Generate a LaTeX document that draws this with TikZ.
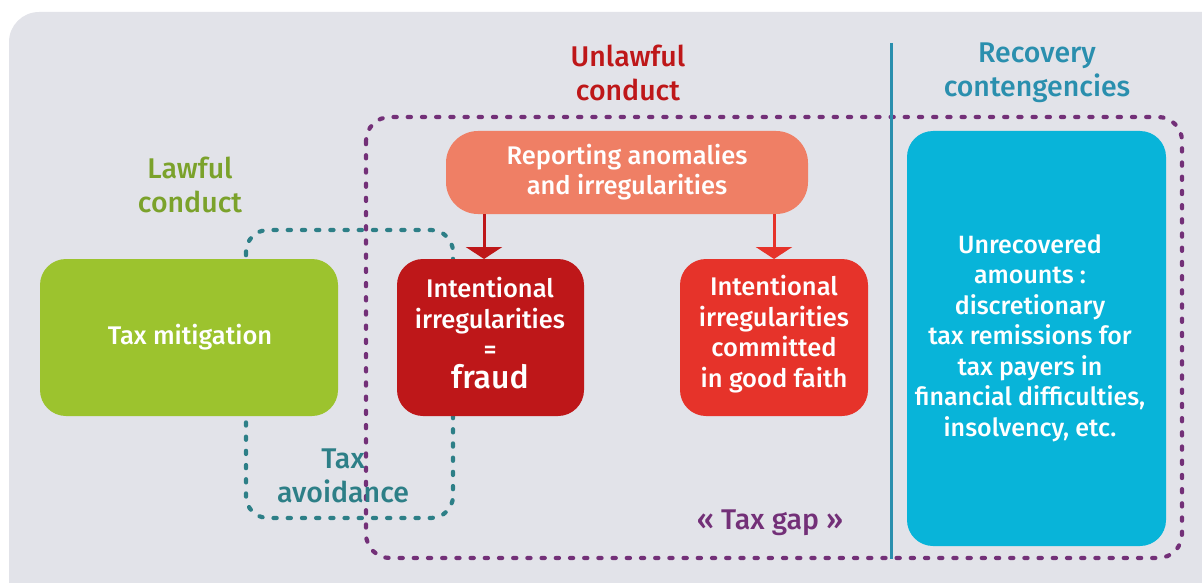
\documentclass[tikz,border=0pt]{standalone}
\usepackage{fontspec}
\setmainfont{Fira Sans}[UprightFont={* Medium}]
\usetikzlibrary{arrows.meta}

\definecolor{bggray}{HTML}{E2E3E9}
\definecolor{lawgreen}{HTML}{9CC32E}
\definecolor{lawtext}{HTML}{7BA22B}
\definecolor{fraudred}{HTML}{BE1719}
\definecolor{faithred}{HTML}{E6332A}
\definecolor{salmon}{HTML}{EF7F65}
\definecolor{recblue}{HTML}{08B4D9}
\definecolor{rectext}{HTML}{2A8FAE}
\definecolor{avoidteal}{HTML}{2D7F87}
\definecolor{gapviolet}{HTML}{733078}

\tikzset{
  x=1pt, y=-1pt,
  body/.style={font=\fontsize{25.5}{30.5}\selectfont, align=center},
  heading/.style={font=\fontsize{28.5}{33.5}\selectfont, align=center},
  box/.style={rounded corners=26pt, fill=#1},
  boxtext/.style={body, text=white, inner sep=0pt},
  headtext/.style={heading, text=#1, inner sep=0pt},
  zone/.style={draw=#1, line width=4.2pt, line cap=round,
    dash pattern=on 3.2pt off 11pt, rounded corners=24pt},
  feed/.style={draw=#1, line width=3pt,
    -{Triangle[width=36pt, length=12pt]}, color=#1},
}

\begin{document}
\begin{tikzpicture}
  \useasboundingbox (0,0) rectangle (1202,583);

  % backdrop panel
  \fill[bggray, rounded corners=30pt] (9,12) rectangle (1240,620);

  % zones
  \draw[zone=avoidteal, rounded corners=22pt] (246,230) rectangle (453,518);
  \draw[zone=gapviolet] (366,117) rectangle (1182,558);

  % separator
  \draw[rectext, line width=3pt] (891,43) -- (891,559);

  % boxes
  \fill[box=lawgreen] (40,259) rectangle (338,416);
  \node[boxtext] (mitig) at (190,337) {Tax mitigation};

  \fill[box=fraudred] (397,259) rectangle (584,416);
  \node[boxtext] (fraud) at (490,333)
    {Intentional\\irregularities\\=\\[-1pt]{\fontsize{32}{34}\selectfont fraud}};
  \coordinate (fraudtop) at (484,259);

  \fill[box=faithred] (680,259) rectangle (868,416);
  \node[boxtext] (faith) at (774,334)
    {Intentional\\irregularities\\committed\\in good faith};
  \coordinate (faithtop) at (774,259);

  \fill[salmon, rounded corners=32pt] (446,131) rectangle (808,214);
  \node[boxtext] (report) at (627,172)
    {Reporting anomalies\\and irregularities};
  \coordinate (repA) at (484,214);
  \coordinate (repB) at (774,214);

  \fill[box=recblue] (907,131) rectangle (1166,546);
  \node[boxtext, font=\fontsize{25}{30.5}\selectfont] (unrec) at (1030,338)
    {Unrecovered\\amounts :\\discretionary\\tax remissions for\\tax payers in\\financial difficulties,\\insolvency, etc.};

  % arrows
  \draw[feed=fraudred] (repA) -- (fraudtop);
  \draw[feed=faithred] (repB) -- (faithtop);

  % headings
  \node[headtext=lawtext] (lawful) at (190,185) {Lawful\\conduct};
  \node[headtext=fraudred] (unlawful) at (628,73) {Unlawful\\conduct};
  \node[headtext=rectext] (recov) at (1037,73) {Recovery\\contengencies};
  \node[headtext=avoidteal] (avoid) at (343,476) {Tax\\avoidance};
  \node[headtext=gapviolet] (gap) at (770,523) {« Tax gap »};
\end{tikzpicture}
\end{document}
